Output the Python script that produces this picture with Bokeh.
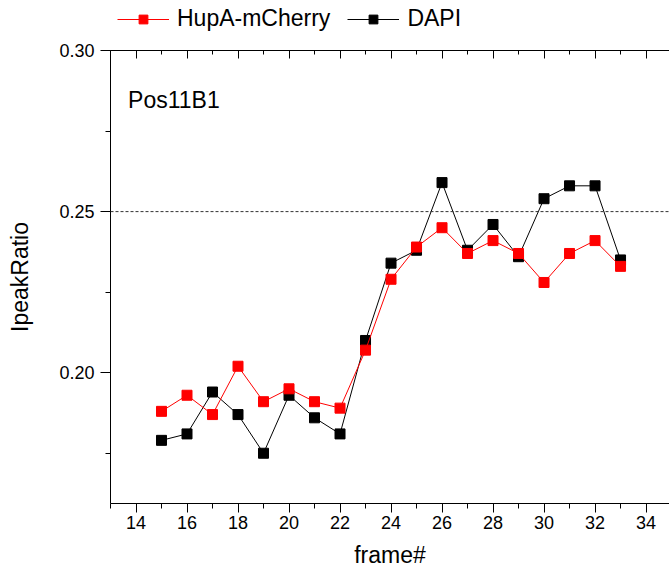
from bokeh.plotting import figure
from bokeh.layouts import column
from bokeh.models import (Range1d, Span, Label, Legend, LegendItem, LinearAxis,
                          FixedTicker, PrintfTickFormatter)
from bokeh.embed import file_html
from bokeh.resources import INLINE

frames = [15, 16, 17, 18, 19, 20, 21, 22, 23, 24, 25, 26, 27, 28, 29, 30, 31, 32, 33]
hupa = [0.188, 0.193, 0.187, 0.202, 0.191, 0.195, 0.191, 0.189, 0.207, 0.229,
        0.239, 0.245, 0.237, 0.241, 0.237, 0.228, 0.237, 0.241, 0.233]
dapi = [0.179, 0.181, 0.194, 0.187, 0.175, 0.193, 0.186, 0.181, 0.210, 0.234,
        0.238, 0.259, 0.238, 0.246, 0.236, 0.254, 0.258, 0.258, 0.235]
x_ticks = [14, 16, 18, 20, 22, 24, 26, 28, 30, 32, 34]
x_minor = list(range(13, 36))
y_ticks = [0.20, 0.25, 0.30]
y_minor = [0.175, 0.2, 0.225, 0.25, 0.275, 0.3]
threshold = 0.25
series_names = ["HupA-mCherry", "DAPI"]
panel_label = "Pos11B1"

FONT = "Liberation Sans"

# ---------------- main chart ----------------
p = figure(width=669, height=530, output_backend="svg", toolbar_location=None,
           x_range=Range1d(13, 34.92), y_range=Range1d(0.1594, 0.30),
           min_border_left=110, min_border_right=0, min_border_top=10,
           min_border_bottom=67, x_axis_label="frame#", y_axis_label="IpeakRatio")
p.grid.visible = False
p.outline_line_color = None
p.background_fill_color = "white"
p.border_fill_color = "white"

xa = p.xaxis[0]
xa.ticker = FixedTicker(ticks=x_ticks, minor_ticks=x_minor)
xa.major_tick_out = 9
xa.major_tick_in = 0
xa.minor_tick_out = 5
xa.minor_tick_in = 0
xa.major_label_standoff = 3
xa.axis_label_standoff = 10
xa.major_label_text_font = FONT
xa.major_label_text_font_size = "18px"
xa.axis_label_text_font = FONT
xa.axis_label_text_font_size = "23px"
xa.axis_label_text_font_style = "normal"
xa.axis_line_color = "black"
xa.major_tick_line_color = "black"
xa.minor_tick_line_color = "black"
xa.major_label_text_color = "black"
xa.axis_label_text_color = "black"

ya = p.yaxis[0]
ya.ticker = FixedTicker(ticks=y_ticks, minor_ticks=y_minor)
ya.formatter = PrintfTickFormatter(format="%.2f")
ya.major_tick_out = 10
ya.major_tick_in = 0
ya.minor_tick_out = 5
ya.minor_tick_in = 0
ya.major_label_standoff = 6
ya.axis_label_standoff = 23
ya.major_label_text_font = FONT
ya.major_label_text_font_size = "18px"
ya.axis_label_text_font = FONT
ya.axis_label_text_font_size = "23px"
ya.axis_label_text_font_style = "normal"
ya.axis_line_color = "black"
ya.major_tick_line_color = "black"
ya.minor_tick_line_color = "black"
ya.major_label_text_color = "black"
ya.axis_label_text_color = "black"

top = LinearAxis(ticker=FixedTicker(ticks=x_ticks, minor_ticks=x_minor),
                 major_tick_in=8, major_tick_out=0, minor_tick_in=4, minor_tick_out=0,
                 major_label_text_font_size="0px", axis_line_color="black",
                 major_tick_line_color="black", minor_tick_line_color="black")
p.add_layout(top, "above")

p.add_layout(Span(location=threshold, dimension="width", line_color="#333333",
                  line_width=1, line_dash="3 2"))

p.line(frames, dapi, line_color="black", line_width=1)
p.scatter(frames, dapi, marker="square", size=10, fill_color="black", line_color="black")
p.line(frames, hupa, line_color="red", line_width=1)
p.scatter(frames, hupa, marker="square", size=10, fill_color="red", line_color="red")

p.add_layout(Label(x=13.69, y=0.2845, text=panel_label, text_font=FONT,
                   text_font_size="23px", text_color="black",
                   text_baseline="middle", text_align="left"))

# ---------------- legend strip (its renderers lie outside its visible ranges) ----------------
lg = figure(width=669, height=40, output_backend="svg", toolbar_location=None,
            x_axis_type=None, y_axis_type=None, x_range=Range1d(0, 1),
            y_range=Range1d(0, 1), min_border=0)
lg.grid.visible = False
lg.outline_line_color = None
lh = lg.line(frames, hupa, line_color="red", line_width=1)
sh = lg.scatter(frames, hupa, marker="square", size=10, fill_color="red", line_color="red")
ld = lg.line(frames, dapi, line_color="black", line_width=1)
sd = lg.scatter(frames, dapi, marker="square", size=10, fill_color="black", line_color="black")
legend = Legend(items=[LegendItem(label=series_names[0], renderers=[lh, sh]),
                       LegendItem(label=series_names[1], renderers=[ld, sd])],
                orientation="horizontal", location=(7, 8),
                glyph_width=52, glyph_height=22, label_standoff=8, spacing=17,
                padding=0, margin=0, border_line_color=None,
                background_fill_alpha=0, label_text_font=FONT,
                label_text_font_size="23px", label_text_color="black")
lg.add_layout(legend, "center")

layout = column(lg, p, spacing=0)
open("out.html", "w").write(file_html(layout, INLINE))
